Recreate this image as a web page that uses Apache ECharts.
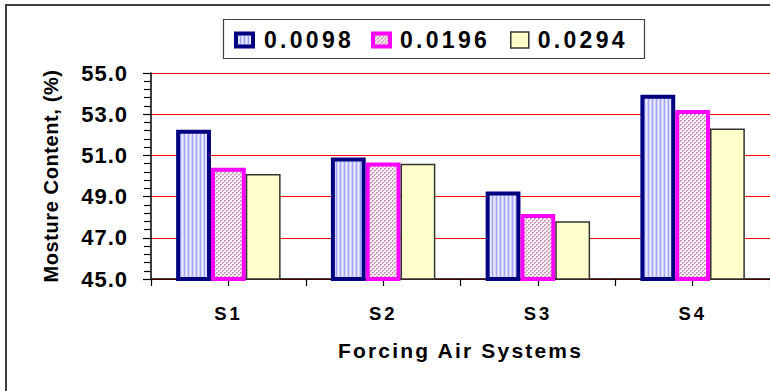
<!DOCTYPE html>
<html>
<head>
<meta charset="utf-8">
<script src="https://cdn.jsdelivr.net/npm/echarts@6/dist/echarts.min.js"></script>
<style>
html,body{margin:0;padding:0;background:#fff;}
#chart{width:770px;height:391px;}
/* letter spacing per text role (keyed on font size) */
text[style*="23px"]{letter-spacing:3.3px;}
text[style*="22px"]{letter-spacing:1px;}
text[style*="18.5px"]{letter-spacing:2.7px;}
text[style*="21px"]{letter-spacing:2.2px;}
text[style*="20px"]{letter-spacing:0.6px;}
</style>
</head>
<body>
<div id="chart"></div>
<script>
// ---- data ----
const categories = ['S1', 'S2', 'S3', 'S4'];
const seriesNames = ['0.0098', '0.0196', '0.0294'];
const values0098 = [52.25, 50.9, 49.25, 53.95];
const values0196 = [50.4, 50.65, 48.15, 53.2];
const values0294 = [50.1, 50.6, 47.8, 52.3];
const yMin = 45, yMax = 55, yStep = 2;
const xTitle = 'Forcing Air Systems';
const yTitle = 'Mosture Content, (%)';

// ---- fill patterns ----
function makePattern(w, h, draw) {
  const c = document.createElement('canvas');
  c.width = w; c.height = h;
  const g = c.getContext('2d');
  draw(g);
  return { image: c, repeat: 'repeat', imageWidth: w, imageHeight: h };
}
const stripePattern = makePattern(4, 4, g => {
  const cols = ['#a4a4ff', '#d4d4ff', '#ececff', '#d0d0ff'];
  cols.forEach((c, i) => { g.fillStyle = c; g.fillRect(i, 0, 1, 4); });
});
const dotPattern = makePattern(4, 4, g => {
  g.fillStyle = '#f6eef4'; g.fillRect(0, 0, 4, 4);
  g.fillStyle = '#d09ab8';
  g.fillRect(0, 0, 2, 1); g.fillRect(0, 1, 1, 1);
  g.fillRect(2, 2, 2, 1); g.fillRect(2, 3, 1, 1);
});

const FONT = 'Liberation Sans';
const chart = echarts.init(document.getElementById('chart'), null, { renderer: 'svg' });

const seriesStyles = [
  { color: stripePattern, borderColor: '#000080', borderWidth: 4 },
  { color: dotPattern, borderColor: '#ff00ff', borderWidth: 4 },
  { color: '#ffffcc', borderColor: '#333333', borderWidth: 1.5 }
];
const seriesValues = [values0098, values0196, values0294];

const legendPos = [
  { left: 234, w: 17, h: 13, pad: 6 },
  { left: 371, w: 17, h: 13, pad: 5 },
  { left: 510, w: 18, h: 16, pad: 4 }
];

chart.setOption({
  animation: false,
  backgroundColor: '#ffffff',
  graphic: [
    { type: 'rect', shape: { x: 6, y: 5, width: 800, height: 500 }, style: { fill: 'none', stroke: '#404040', lineWidth: 2 }, z: -1 },
    { type: 'rect', shape: { x: 223.5, y: 19.5, width: 421, height: 39 }, style: { fill: 'none', stroke: '#404040', lineWidth: 1.2 }, z: -1 }
  ],
  legend: seriesNames.map((n, i) => ({
    data: [n],
    left: legendPos[i].left,
    top: 28.5,
    padding: 0,
    icon: 'rect',
    itemWidth: legendPos[i].w,
    itemHeight: legendPos[i].h,
    itemStyle: { borderColor: seriesStyles[i].borderColor, borderWidth: seriesStyles[i].borderWidth },
    selectedMode: false,
    textStyle: { fontFamily: FONT, fontWeight: 'bold', fontSize: 23, color: '#000', padding: [0, 0, 0, legendPos[i].pad] }
  })),
  grid: { left: 151, top: 73, width: 628, height: 206, containLabel: false },
  xAxis: [
    {
      type: 'category',
      data: categories,
      position: 'bottom',
      axisLine: { lineStyle: { color: '#000', width: 1.5 } },
      axisTick: { show: true, length: 7, alignWithLabel: false, lineStyle: { color: '#000', width: 1.2 } },
      axisLabel: { margin: 25, fontFamily: FONT, fontWeight: 'bold', fontSize: 18.5, color: '#000' },
      name: xTitle,
      nameLocation: 'middle',
      nameGap: 60.5,
      nameTextStyle: { fontFamily: FONT, fontWeight: 'bold', fontSize: 21, color: '#000' }
    },
    {
      type: 'category',
      data: categories,
      position: 'bottom',
      gridIndex: 0,
      axisLine: { show: false },
      axisTick: { show: true, length: 7, alignWithLabel: true, lineStyle: { color: '#000', width: 1.2 } },
      axisLabel: { show: false },
      splitLine: { show: false }
    }
  ],
  yAxis: {
    type: 'value',
    min: yMin,
    max: yMax,
    interval: yStep,
    axisLine: { show: true, lineStyle: { color: '#000', width: 1.5 } },
    axisTick: { show: true, length: 8, lineStyle: { color: '#000', width: 1.2 } },
    minorTick: { show: true, splitNumber: 5, length: 7, lineStyle: { color: '#000', width: 1.2 } },
    splitLine: { show: true, lineStyle: { color: '#ff0000', width: 1.2 } },
    axisLabel: {
      margin: 23,
      formatter: v => v.toFixed(1),
      fontFamily: FONT, fontWeight: 'bold', fontSize: 22, color: '#000'
    },
    name: yTitle,
    nameLocation: 'middle',
    nameGap: 90,
    nameTextStyle: { fontFamily: FONT, fontWeight: 'bold', fontSize: 20, color: '#000' }
  },
  series: seriesNames.map((n, i) => ({
    name: n,
    type: 'bar',
    xAxisIndex: 0,
    data: seriesValues[i],
    barGap: '0%',
    barCategoryGap: '32.5%',
    itemStyle: seriesStyles[i]
  }))
});
</script>
</body>
</html>
